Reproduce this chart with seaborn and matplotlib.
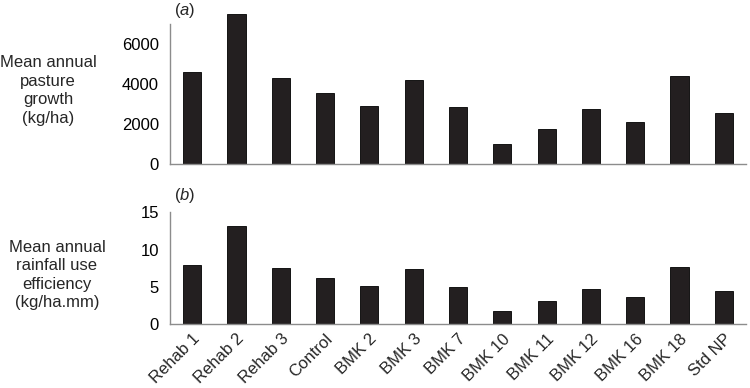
import numpy as np
import pandas as pd
import seaborn as sns
import matplotlib
matplotlib.use('Agg')
import matplotlib.pyplot as plt

# data
sites = ['Rehab 1', 'Rehab 2', 'Rehab 3', 'Control', 'BMK 2', 'BMK 3', 'BMK 7',
         'BMK 10', 'BMK 11', 'BMK 12', 'BMK 16', 'BMK 18', 'Std NP']
growth = [4580, 7480, 4320, 3570, 2880, 4220, 2830, 1020, 1770, 2730, 2080, 4380, 2530]
rue = [8.0, 13.2, 7.6, 6.25, 5.1, 7.4, 5.0, 1.82, 3.08, 4.77, 3.7, 7.7, 4.5]

df = pd.DataFrame({'site': sites, 'growth': growth, 'rue': rue})

sns.set_theme(style="white")
plt.rcParams['font.family'] = ['Liberation Sans', 'DejaVu Sans']
plt.rcParams['mathtext.fontset'] = 'custom'
plt.rcParams['mathtext.it'] = 'Liberation Sans:italic'
plt.rcParams['mathtext.rm'] = 'Liberation Sans'

fig = plt.figure(figsize=(7.5, 3.88), dpi=100)
ax1 = fig.add_axes([0.2267, 0.5773, 0.768, 0.3607])
ax2 = fig.add_axes([0.2267, 0.1642, 0.768, 0.2886])

bar_col = '#231f20'
spine_col = '#8c8c8c'
fs = 12

for ax, col, ylim, yticks in [(ax1, 'growth', 7000, [0, 2000, 4000, 6000]),
                              (ax2, 'rue', 15, [0, 5, 10, 15])]:
    sns.barplot(data=df, x='site', y=col, ax=ax, color=bar_col, saturation=1,
                width=0.41, edgecolor='black', linewidth=0.6)
    for p in ax.patches:
        p.set_clip_on(False)
    ax.set_xlim(-0.5, len(sites) - 0.5)
    ax.set_ylim(0, ylim)
    ax.set_yticks(yticks)
    ax.set_xlabel('')
    ax.set_ylabel('')
    sns.despine(ax=ax)
    for s in ['left', 'bottom']:
        ax.spines[s].set_color(spine_col)
        ax.spines[s].set_linewidth(1.0)
    ax.set_xticks(np.arange(-0.5, len(sites), 1), minor=True)
    ax.tick_params(axis='x', which='minor', length=4, width=1, color=spine_col, direction='out')
    ax.tick_params(axis='x', which='major', length=0)
    ax.tick_params(axis='y', length=3, width=1, color=spine_col, direction='out',
                   labelsize=fs, pad=5, labelcolor='black')

ax1.set_xticklabels([])
ax2.set_xticks(range(len(sites)))
ax2.set_xticklabels(sites, rotation=45, ha='right', rotation_mode='anchor', fontsize=fs)
ax2.tick_params(axis='x', which='major', pad=5)

# panel letters
fig.text(0.232, 0.972, r'($\it{a}$)', fontsize=fs, va='center', ha='left')
fig.text(0.232, 0.495, r'($\it{b}$)', fontsize=fs, va='center', ha='left')

# y-axis descriptions
fig.text(0.064, 0.767, 'Mean annual\npasture\ngrowth\n(kg/ha)', fontsize=fs,
         ha='center', va='center', linespacing=1.3)
fig.text(0.076, 0.291, 'Mean annual\nrainfall use\nefficiency\n(kg/ha.mm)', fontsize=fs,
         ha='center', va='center', linespacing=1.3)

plt.savefig('out.png', dpi=100)
